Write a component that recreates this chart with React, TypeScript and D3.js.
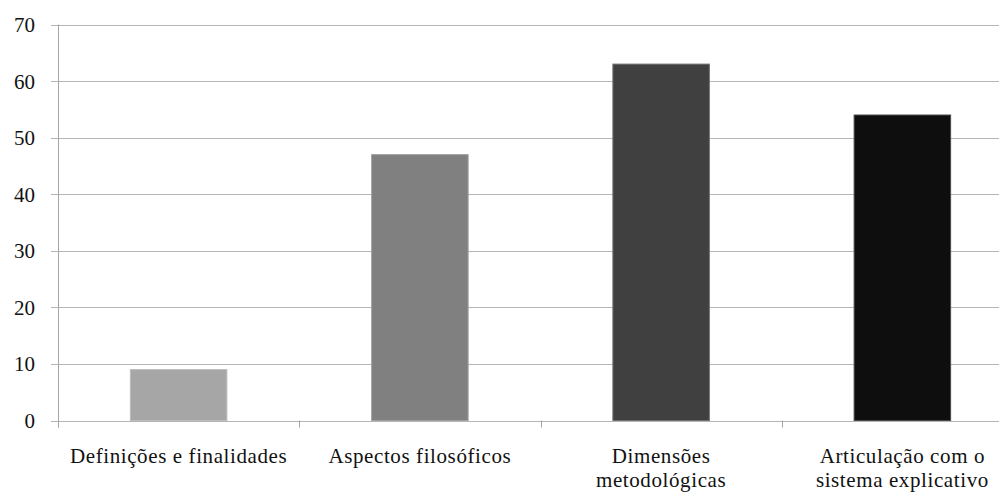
import React from "react";
import * as d3 from "d3";

const categories: string[][] = [
  ["Definições e finalidades"],
  ["Aspectos filosóficos"],
  ["Dimensões", "metodológicas"],
  ["Articulação com o", "sistema explicativo"],
];
const values: number[] = [9, 47, 63, 54];
const barColors: string[] = ["#a6a6a6", "#808080", "#404040", "#0e0e0e"];
const yTicks: number[] = [0, 10, 20, 30, 40, 50, 60, 70];

const W = 999;
const H = 494;
const left = 58;
const right = 1023;
const top = 24.5;
const bottom = 420.5;
const font = "Liberation Serif, Tinos, Times New Roman, DejaVu Serif, serif";

export default function App() {
  const x = d3
    .scaleBand<number>()
    .domain(d3.range(categories.length))
    .range([left, right])
    .paddingInner(0.6)
    .paddingOuter(0.3);
  const y = d3.scaleLinear().domain([0, 70]).range([bottom, top]);
  const step = x.step();
  const catTicks = d3.range(categories.length + 1).map((i) => left + i * step);

  return (
    <svg
      width={W}
      height={H}
      style={{ position: "absolute", left: 0, top: 0, background: "#fff" }}
    >
      {yTicks.map((t) => (
        <g key={t}>
          <line
            x1={left - 7}
            x2={W}
            y1={Math.round(y(t)) + 0.5}
            y2={Math.round(y(t)) + 0.5}
            stroke="#b5b5b5"
            strokeWidth={1}
          />
          <text
            x={35}
            y={y(t)}
            dy="0.36em"
            textAnchor="end"
            style={{ fontFamily: font, fontSize: 21 }}
            fill="#111"
          >
            {t}
          </text>
        </g>
      ))}
      <line
        x1={left + 0.5}
        x2={left + 0.5}
        y1={top}
        y2={bottom + 7}
        stroke="#a6a6a6"
      />
      {catTicks.map((cx, i) => (
        <line
          key={i}
          x1={Math.round(cx) + 0.5}
          x2={Math.round(cx) + 0.5}
          y1={bottom}
          y2={bottom + 7}
          stroke="#a6a6a6"
        />
      ))}
      {values.map((v, i) => (
        <rect
          key={i}
          x={x(i)!}
          y={y(v)}
          width={x.bandwidth()}
          height={bottom - y(v)}
          fill={barColors[i]}
          stroke={d3.interpolateRgb(barColors[i], "#ffffff")(0.25)}
          strokeWidth={1}
        />
      ))}
      {categories.map((lines, i) => (
        <text
          key={i}
          x={x(i)! + x.bandwidth() / 2}
          y={463}
          textAnchor="middle"
          style={{ fontFamily: font, fontSize: 21, letterSpacing: "0.6px" }}
          fill="#111"
        >
          {lines.map((l, j) => (
            <tspan key={j} x={x(i)! + x.bandwidth() / 2} dy={j === 0 ? 0 : 24}>
              {l}
            </tspan>
          ))}
        </text>
      ))}
    </svg>
  );
}
